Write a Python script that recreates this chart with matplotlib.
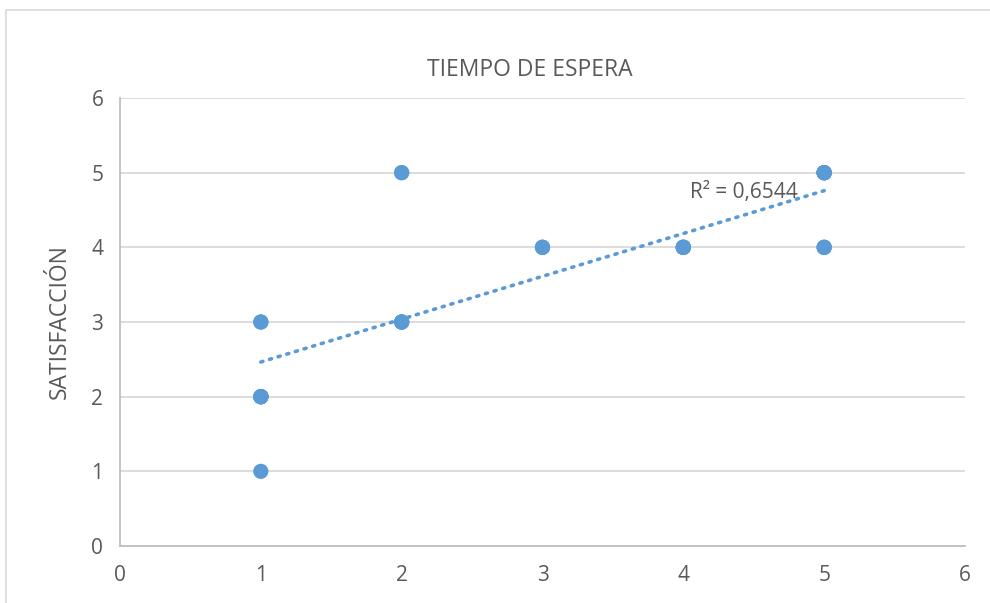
import numpy as np
import matplotlib
matplotlib.use("Agg")
import matplotlib.pyplot as plt
from matplotlib.patches import Rectangle

# survey responses (many overlap on the same point)
tiempo = [1,
          1, 1, 1, 1, 1, 1,
          1, 1,
          2, 2, 2, 2,
          2, 2,
          3, 3, 3,
          4, 4, 4, 4, 4,
          5, 5, 5,
          5, 5, 5, 5, 5, 5]
satisfaccion = [1,
                2, 2, 2, 2, 2, 2,
                3, 3,
                3, 3, 3, 3,
                5, 5,
                4, 4, 4,
                4, 4, 4, 4, 4,
                4, 4, 4,
                5, 5, 5, 5, 5, 5]

titulo = "TIEMPO DE ESPERA"
eje_y = "SATISFACCIÓN"

azul = "#5B9BD5"
gris_txt = "#595959"
gris_grid = "#D9D9D9"

plt.rcParams["font.family"] = ["Open Sans", "DejaVu Sans"]

x = np.array(tiempo, dtype=float)
y = np.array(satisfaccion, dtype=float)

# linear trend and R²
m, b = np.polyfit(x, y, 1)
pred = m * x + b
r2 = 1 - np.sum((y - pred) ** 2) / np.sum((y - y.mean()) ** 2)

fig = plt.figure(figsize=(9.9, 6.03), dpi=100)
fig.patches.append(Rectangle((6 / 990, -0.1), 1.2, (1 - 10 / 603) + 0.1,
                             transform=fig.transFigure, fill=False,
                             edgecolor="#D9D9D9", linewidth=1.2))

ax = fig.add_axes([120 / 990, 1 - 546 / 603, 845 / 990, 448 / 603])

ax.set_xlim(0, 6)
ax.set_ylim(0, 6)
ax.set_xticks(range(7))
ax.set_yticks(range(7))
ax.grid(axis="y", color=gris_grid, linewidth=1.3)
ax.set_axisbelow(True)

for s in ["top", "right"]:
    ax.spines[s].set_visible(False)
for s in ["left", "bottom"]:
    ax.spines[s].set_color("#BFBFBF")
    ax.spines[s].set_linewidth(1.3)

ax.tick_params(length=0, labelsize=15, labelcolor=gris_txt, pad=12)
ax.tick_params(axis="x", pad=14)

xs = np.array([x.min(), x.max()])
ax.plot(xs, m * xs + b, linestyle=(0, (0.6, 1.9)), color=azul,
        linewidth=2.6, dash_capstyle="round", zorder=2)

ax.scatter(x, y, s=120, color=azul, edgecolor="none", zorder=3)

ax.text(4.05, 4.74, "R² = " + f"{r2:.4f}".replace(".", ","), fontsize=15,
        color=gris_txt, va="center", ha="left", zorder=4)

fig.text(530 / 990, 1 - 70 / 603, titulo, fontsize=16.5, color=gris_txt,
         ha="center", va="center")
ax.set_ylabel(eje_y, fontsize=16.5, color=gris_txt, labelpad=14)

fig.savefig("out.png")
